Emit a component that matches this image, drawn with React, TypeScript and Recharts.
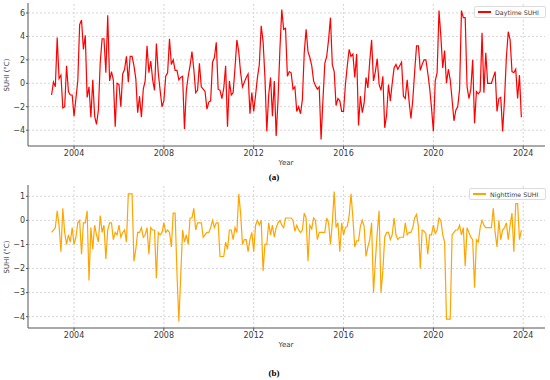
import { LineChart, Line, XAxis, YAxis, ReferenceLine } from 'recharts';

// monthly values, Jan 2003 .. Dec 2023
const START_YEAR = 2003;

const daytimeSuhi = [
  -1.0, 0.1, -0.3, 3.9, 0.4, 0.7, -2.1, -2.0, 1.5, -0.7, -1.0, -1.0,
  -2.8, -1.3, 0.2, 5.0, 5.4, 2.9, 4.1, -1.2, -0.3, -2.9, 0.3, -2.8,
  -3.5, -2.3, 1.8, 3.8, 3.8, 0.9, 5.8, 0.2, 1.0, 0.3, -3.7, 0.0,
  -0.1, -2.0, 0.8, 1.2, 2.3, 0.1, 2.3, 2.3, 1.5, 0.4, -2.5, -1.1,
  -2.9, -0.5, 0.2, 3.2, 0.9, 1.9, 0.3, -0.6, 3.4, 0.9, -0.6, -2.0,
  -1.5, 0.6, 0.9, 3.8, 1.6, 2.0, 1.1, 1.1, 0.3, 0.5, 0.6, -3.9,
  -0.6, 0.6, 1.5, 2.7, 1.2, -0.8, -0.6, 1.7, -0.3, -0.5, -0.7, -2.2,
  -1.6, -1.5, 1.8, 2.2, 3.5, -0.5, -0.6, -1.3, -0.4, 1.5, -3.7, 0.2,
  -1.0, -0.8, 1.3, 3.7, 2.7, 0.9, -0.3, 0.1, 0.5, 0.8, -2.6, -0.8,
  -2.4, -1.0, 0.5, 1.6, 4.9, 3.6, 0.5, -4.1, -1.0, 0.5, -2.8, 0.2,
  -4.5, -1.4, 2.9, 6.3, 4.6, 4.7, 0.6, 1.0, 0.9, -0.5, -0.3, -2.4,
  -2.0, -2.6, -1.4, 2.6, 4.6, 2.7, 2.2, 1.5, 0.2, -0.2, -0.5, -0.3,
  -4.8, -1.4, 1.7, 2.3, 3.7, 5.6, 1.6, 1.0, -1.9, -1.3, -1.5, -2.4,
  -2.4, -0.1, 1.5, 2.9, 2.3, 2.5, 0.5, 2.5, -3.6, -1.1, -2.5, -1.7,
  0.5, -0.4, 1.9, 3.7, 0.2, 1.0, 2.1, -0.1, -0.6, 0.6, -3.8, -2.7,
  -0.1, -1.5, 0.0, 1.3, 1.6, 1.2, 1.5, 1.8, -1.1, -1.3, 0.3, -1.5,
  -3.0, -1.4, 1.0, 3.2, 3.2, 1.1, 1.6, 2.0, 2.0, 0.9, -0.4, -2.1,
  -4.1, 0.2, 0.9, 6.2, 4.0, 1.3, 2.8, 0.0, 1.2, 0.3, -1.4, -3.2,
  -2.3, -2.0, -0.5, 6.2, 5.6, 5.6, -0.3, -1.3, -0.5, 2.0, -3.4, -0.7,
  -0.9, -0.7, 4.3, -0.8, 2.6, 0.0, 0.0, 0.0, 0.5, 1.0, -2.4, -1.3,
  -1.2, -4.1, -1.4, 2.2, 4.4, 3.7, 1.0, 0.9, 1.2, -1.3, 0.7, -2.9,
];

const nighttimeSuhi = [
  -0.5, -0.4, -0.3, 0.4, -0.2, -1.3, 0.5, -0.5, -1.0, -0.6, -0.9, -0.3,
  -1.0, -0.7, -0.1, 0.0, -1.4, -0.1, -0.1, 0.4, -2.5, -0.3, -1.2, -0.2,
  -0.6, -0.9, 0.2, -0.5, -0.2, -1.6, -0.4, -0.1, -0.1, -0.8, -0.5, -0.6,
  -0.2, -0.7, -0.5, -0.4, -0.9, 1.1, 1.1, 1.1, -1.7, -1.2, -0.5, -0.5,
  -0.3, -0.7, -0.6, -0.3, -1.4, -0.3, -0.4, -0.4, -2.4, -0.5, -0.6, -0.5,
  -0.1, -0.5, -0.4, -0.5, -1.1, 0.3, 0.3, -2.2, -4.2, -2.3, -0.4, -0.9,
  -0.6, -1.0, 0.1, 0.1, 0.5, -0.4, -0.1, -0.1, -0.1, -0.7, -0.6, -0.5,
  -0.5, -0.3, 0.0, -0.3, -0.1, -0.1, -1.5, -1.5, -1.5, -0.9, -1.2, -0.4,
  -0.4, -0.8, -0.3, -0.5, 1.1, 0.3, -1.0, -0.8, -0.8, -1.3, -0.8, -0.5,
  -1.3, -0.2, 0.0, -0.2, 0.0, -2.1, -1.0, -1.0, -0.1, -0.6, -0.2, -0.7,
  -0.3, -0.1, 0.0, -0.2, -0.3, 0.1, 0.1, 0.1, 0.1, 0.0, -0.45, -0.2,
  -0.4, -0.5, -0.4, 0.3, 0.1, -1.7, -0.2, -0.35, 0.1, 0.0, -0.8, -0.5,
  -0.5, -0.5, -0.5, 0.1, -0.1, -1.0, -0.1, 1.2, -0.3, -0.1, -1.3, -0.1,
  -0.6, -0.3, -0.25, 0.2, 1.1, 0.1, -1.1, -0.85, -0.85, -0.25, 0.0, -0.25,
  -1.5, -1.1, -0.8, -0.1, -3.0, -1.7, -0.5, 0.4, -3.0, -2.1, -0.7, -0.5,
  -0.5, -0.8, -0.6, 0.1, -0.6, -0.8, -0.7, -0.7, -0.7, -0.1, -0.6, -0.5,
  -0.5, -0.3, 0.1, 0.25, -0.25, -2.0, -0.4, -0.45, -0.55, -1.4, -0.6, -0.6,
  -0.2, -0.55, -0.4, 0.1, 0.0, -0.6, -0.9, -4.1, -4.1, -4.1, -0.6, -0.5,
  -0.4, -0.4, -0.2, -0.6, -0.3, -1.9, -0.3, -0.5, -0.7, -0.8, -2.8, -0.8,
  -0.9, -0.3, 0.0, -0.2, -0.3, -0.3, -0.3, -0.3, 0.5, -0.5, -1.1, 0.0,
  -0.8, -0.4, -0.3, -0.1, -0.8, -0.2, 0.3, -1.3, 0.7, 0.7, -0.8, -0.4,
];

const yearTicks = [2004, 2008, 2012, 2016, 2020, 2024];
const dayTicks = [-4, -2, 0, 2, 4, 6];
const nightTicks = [-4, -3, -2, -1, 0, 1];

const FONT = '"DejaVu Sans", sans-serif';
const TEXT = '#3a3a3a';
const GRID = '#d6d6d6';

const toRows = (values: number[]) =>
  values.map((v, i) => ({ t: START_YEAR + i / 12, v }));

const minus = (v: number) => String(v).replace('-', '\u2212');

type PanelProps = {
  values: number[];
  name: string;
  color: string;
  ticks: number[];
  domain: [number, number];
  top: number;
  marginTop: number;
  marginBottom: number;
  caption: string;
  captionTop: number;
  legendLeft: number;
  legendWidth: number;
};

function Panel(p: PanelProps) {
  const plotTop = p.top + p.marginTop;
  const plotBottom = p.top + 170 - p.marginBottom - 20;
  return (
    <>
      <div style={{ position: 'absolute', left: 0, top: p.top }}>
        <LineChart
          width={550}
          height={170}
          data={toRows(p.values)}
          margin={{ top: p.marginTop, right: 5, left: 0, bottom: p.marginBottom }}
        >
          <XAxis
            dataKey="t"
            type="number"
            domain={[2001.95, 2024.97]}
            ticks={yearTicks}
            allowDataOverflow
            height={20}
            tickSize={3}
            tickMargin={1}
            stroke="#555"
            tick={{ fontSize: 8, fill: TEXT, fontFamily: FONT }}
          />
          <YAxis
            type="number"
            domain={p.domain}
            ticks={p.ticks}
            allowDataOverflow
            width={28}
            tickSize={2}
            tickMargin={1}
            stroke="#555"
            tickFormatter={minus}
            tick={{ fontSize: 8, fill: TEXT, fontFamily: FONT }}
          />
          {yearTicks.map((t) => (
            <ReferenceLine key={'x' + t} x={t} stroke={GRID} strokeDasharray="2 2" />
          ))}
          {p.ticks.map((t) => (
            <ReferenceLine key={'y' + t} y={t} stroke={GRID} strokeDasharray="2 2" />
          ))}
          <Line
            type="linear"
            dataKey="v"
            name={p.name}
            stroke={p.color}
            strokeWidth={1.2}
            dot={false}
            isAnimationActive={false}
          />
        </LineChart>
      </div>
      {/* y label */}
      <div
        style={{
          position: 'absolute',
          left: 7,
          top: (plotTop + plotBottom) / 2,
          transform: 'translate(-50%, -50%) rotate(-90deg)',
          fontFamily: FONT,
          fontSize: 7,
          color: TEXT,
          whiteSpace: 'nowrap',
        }}
      >
        SUHI (°C)
      </div>
      {/* x label */}
      <div
        style={{
          position: 'absolute',
          left: 286,
          top: plotBottom + 17,
          transform: 'translate(-50%, -50%)',
          fontFamily: FONT,
          fontSize: 7,
          color: TEXT,
        }}
      >
        Year
      </div>
      {/* legend */}
      <div
        style={{
          position: 'absolute',
          left: p.legendLeft,
          top: plotTop + 3,
          width: p.legendWidth,
          height: 12,
          boxSizing: 'border-box',
          border: '1px solid #dcdcdc',
          borderRadius: 2,
          background: '#fff',
          display: 'flex',
          alignItems: 'center',
          fontFamily: FONT,
          fontSize: 6.3,
          color: TEXT,
          whiteSpace: 'nowrap',
        }}
      >
        <span
          style={{
            display: 'inline-block',
            width: 13,
            height: 1.5,
            background: p.color,
            marginLeft: 3,
            marginRight: 4,
          }}
        />
        {p.name}
      </div>
      <div
        style={{
          position: 'absolute',
          left: 274,
          top: p.captionTop,
          transform: 'translate(-50%, -50%)',
          fontFamily: '"Liberation Serif", serif',
          fontWeight: 'bold',
          fontSize: 9,
          color: '#000',
        }}
      >
        {p.caption}
      </div>
    </>
  );
}

export default function App() {
  return (
    <div
      style={{
        position: 'absolute',
        left: 0,
        top: 0,
        width: 550,
        height: 380,
        background: '#fff',
      }}
    >
      <Panel
        values={daytimeSuhi}
        name="Daytime SUHI"
        color="#ff0000"
        ticks={dayTicks}
        domain={[-5.35, 6.85]}
        top={0}
        marginTop={3}
        marginBottom={4}
        caption="(a)"
        captionTop={177}
        legendLeft={474}
        legendWidth={72}
      />
      <Panel
        values={nighttimeSuhi}
        name="Nighttime SUHI"
        color="#ffa500"
        ticks={nightTicks}
        domain={[-4.47, 1.47]}
        top={180}
        marginTop={5}
        marginBottom={2}
        caption="(b)"
        captionTop={373}
        legendLeft={469}
        legendWidth={77}
      />
    </div>
  );
}
